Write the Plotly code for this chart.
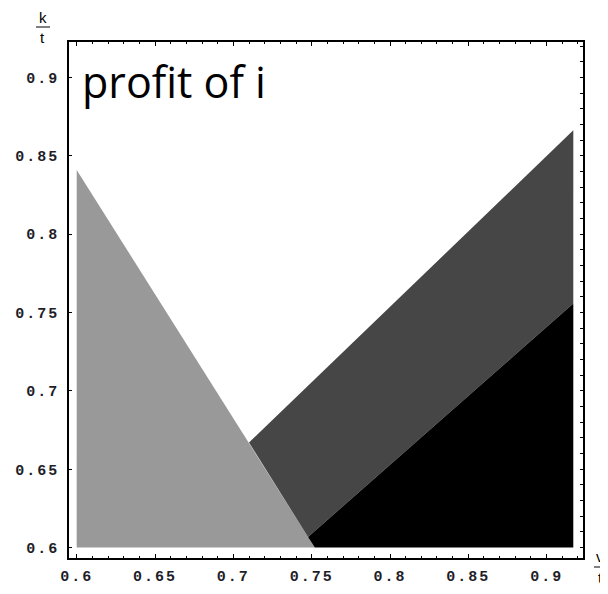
import plotly.graph_objects as go

# ---- data ----
light_v = [0.6, 0.6, 0.752]
light_k = [0.6, 0.841, 0.6]

dark_v = [0.710, 0.917, 0.917, 0.7477]
dark_k = [0.667, 0.8663, 0.7557, 0.6068]

black_v = [0.7477, 0.917, 0.917, 0.752]
black_k = [0.6068, 0.7557, 0.6, 0.6]

tick_vals = [0.6, 0.65, 0.7, 0.75, 0.8, 0.85, 0.9]
tick_text = ["0.6", "0.65", "0.7", "0.75", "0.8", "0.85", "0.9"]

title_text = "profit of i"

# ---- layout geometry (page pixels; the page body has an 8px margin) ----
OFF = 8
W, H = 608 - OFF, 594 - OFF
L, R, T, B = 69 - OFF, 583 - OFF, 42 - OFF, 558 - OFF
PW, PH = R - L, B - T


def px(x):
    return (x - OFF - L) / PW


def py(y):
    return (B - (y - OFF)) / PH


fig = go.Figure()
fig.add_trace(go.Scatter(x=light_v, y=light_k, fill="toself", mode="none",
                         fillcolor="#999999", hoverinfo="skip", showlegend=False))
fig.add_trace(go.Scatter(x=dark_v, y=dark_k, fill="toself", mode="none",
                         fillcolor="#464646", hoverinfo="skip", showlegend=False))
fig.add_trace(go.Scatter(x=black_v, y=black_k, fill="toself", mode="none",
                         fillcolor="#000000", hoverinfo="skip", showlegend=False))
# invisible trace to activate right axis
fig.add_trace(go.Scatter(x=[0.6], y=[0.6], yaxis="y2", mode="markers",
                         marker=dict(opacity=0), hoverinfo="skip", showlegend=False))

tickfont = dict(family="Liberation Mono", size=15, color="#1e1e28", weight="bold")
spaced = ['<span style="letter-spacing:2px">%s</span>' % t for t in tick_text]

fig.update_layout(
    width=W, height=H,
    margin=dict(l=L, r=W - R, t=T, b=H - B, pad=0, autoexpand=False),
    plot_bgcolor="white", paper_bgcolor="white",
    xaxis=dict(range=[0.5951, 0.9232], showgrid=False, zeroline=False, automargin=False,
               showline=True, linecolor="black", linewidth=1.5, mirror="ticks",
               ticks="inside", ticklen=4, tickwidth=1, tickcolor="black",
               tickvals=tick_vals, ticktext=spaced, tickfont=tickfont,
               ticklabelstandoff=3,
               minor=dict(dtick=0.01, tick0=0.6, ticks="inside", ticklen=2,
                          tickcolor="black", tickwidth=1, showgrid=False)),
    yaxis=dict(range=[0.59336, 0.92266], showgrid=False, zeroline=False, automargin=False,
               showline=True, linecolor="black", linewidth=1.5, mirror=True,
               ticks="inside", ticklen=3, tickwidth=1, tickcolor="black",
               tickvals=tick_vals, ticktext=spaced, tickfont=tickfont,
               ticklabelstandoff=5),
    yaxis2=dict(range=[0.59336, 0.92266], overlaying="y", side="right", automargin=False,
                showgrid=False, zeroline=False, showline=False,
                ticks="inside", ticklen=3, tickwidth=1, tickcolor="black",
                tick0=0.6, dtick=0.01, showticklabels=False),
)

# title text inside plot
fig.add_annotation(x=px(80), y=py(81), xref="paper", yref="paper",
                   text=title_text, showarrow=False, xanchor="left", yanchor="middle",
                   font=dict(family="Open Sans", size=43, color="black"))

# axis labels as fractions k/t and v/t
lab_font = dict(family="Liberation Sans", size=15, color="black")
fig.add_annotation(x=px(43), y=py(18), xref="paper", yref="paper", text="k",
                   showarrow=False, xanchor="center", yanchor="middle", font=lab_font)
fig.add_annotation(x=px(42.5), y=py(38), xref="paper", yref="paper", text="t",
                   showarrow=False, xanchor="center", yanchor="middle", font=lab_font)
fig.add_shape(type="line", xref="paper", yref="paper",
              x0=px(36), x1=px(50), y0=py(27), y1=py(27),
              line=dict(color="black", width=1))

fig.add_annotation(x=px(600), y=py(556), xref="paper", yref="paper", text="v",
                   showarrow=False, xanchor="center", yanchor="middle", font=lab_font)
fig.add_annotation(x=px(600), y=py(577), xref="paper", yref="paper", text="t",
                   showarrow=False, xanchor="center", yanchor="middle", font=lab_font)
fig.add_shape(type="line", xref="paper", yref="paper",
              x0=px(594), x1=px(606), y0=py(567), y1=py(567),
              line=dict(color="black", width=1))

fig.write_html("out.html")
